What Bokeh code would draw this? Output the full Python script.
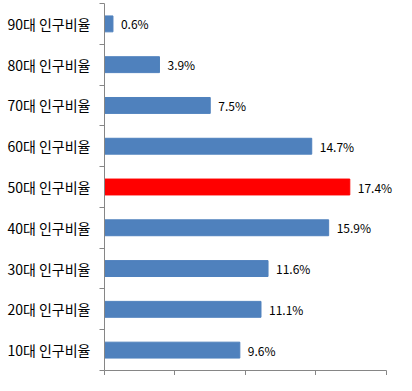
from bokeh.plotting import figure
from bokeh.models import ColumnDataSource, FixedTicker, LabelSet, Range1d
from bokeh.core.properties import value
from bokeh.embed import file_html
from bokeh.resources import INLINE

categories = ["10대 인구비율", "20대 인구비율", "30대 인구비율", "40대 인구비율", "50대 인구비율",
              "60대 인구비율", "70대 인구비율", "80대 인구비율", "90대 인구비율"]
values = [9.6, 11.1, 11.6, 15.9, 17.4, 14.7, 7.5, 3.9, 0.6]
highlight = "50대 인구비율"
x_ticks = [0, 5, 10, 15, 20]

pos = list(range(len(categories)))
colors = ["#FF0000" if c == highlight else "#4F81BD" for c in categories]
labels = [f"{v:.1f}%" for v in values]
src = ColumnDataSource(dict(y=pos, x=values, color=colors, label=labels))

p = figure(width=396, height=375, output_backend="svg", toolbar_location=None,
           x_range=Range1d(0, 20.57), y_range=Range1d(-0.5, len(categories) - 0.5),
           min_border_left=104, min_border_right=2, min_border_top=3, min_border_bottom=5)
p.outline_line_color = None
p.xgrid.visible = False
p.ygrid.visible = False

p.hbar(y="y", right="x", left=0, height=0.39, color="color", source=src)

ls = LabelSet(x="x", y="y", text="label", source=src, x_offset=8, text_baseline="middle",
              text_font=value("Noto Sans CJK KR"), text_font_size="12px", text_color="black")
p.add_layout(ls)

axis_col = "#868686"
p.xaxis.ticker = FixedTicker(ticks=x_ticks)
p.xaxis.bounds = (x_ticks[0], x_ticks[-1])
p.xaxis.major_label_overrides = {t: "" for t in x_ticks}
p.xaxis.major_label_standoff = 0
p.xaxis.major_tick_out = 5
p.xaxis.major_tick_in = 0
p.xaxis.minor_tick_line_color = None
p.xaxis.axis_line_color = axis_col
p.xaxis.major_tick_line_color = axis_col

p.yaxis.ticker = FixedTicker(ticks=pos, minor_ticks=[i - 0.5 for i in range(len(categories) + 1)])
p.yaxis.major_label_overrides = {i: c for i, c in enumerate(categories)}
p.yaxis.major_tick_line_color = None
p.yaxis.major_tick_out = 0
p.yaxis.major_tick_in = 0
p.yaxis.minor_tick_out = 5
p.yaxis.minor_tick_in = 0
p.yaxis.minor_tick_line_color = axis_col
p.yaxis.axis_line_color = axis_col
p.yaxis.major_label_standoff = 9
p.yaxis.major_label_text_font = "Noto Sans CJK KR"
p.yaxis.major_label_text_font_size = "14px"
p.yaxis.major_label_text_color = "black"

open("out.html", "w").write(file_html(p, INLINE))
